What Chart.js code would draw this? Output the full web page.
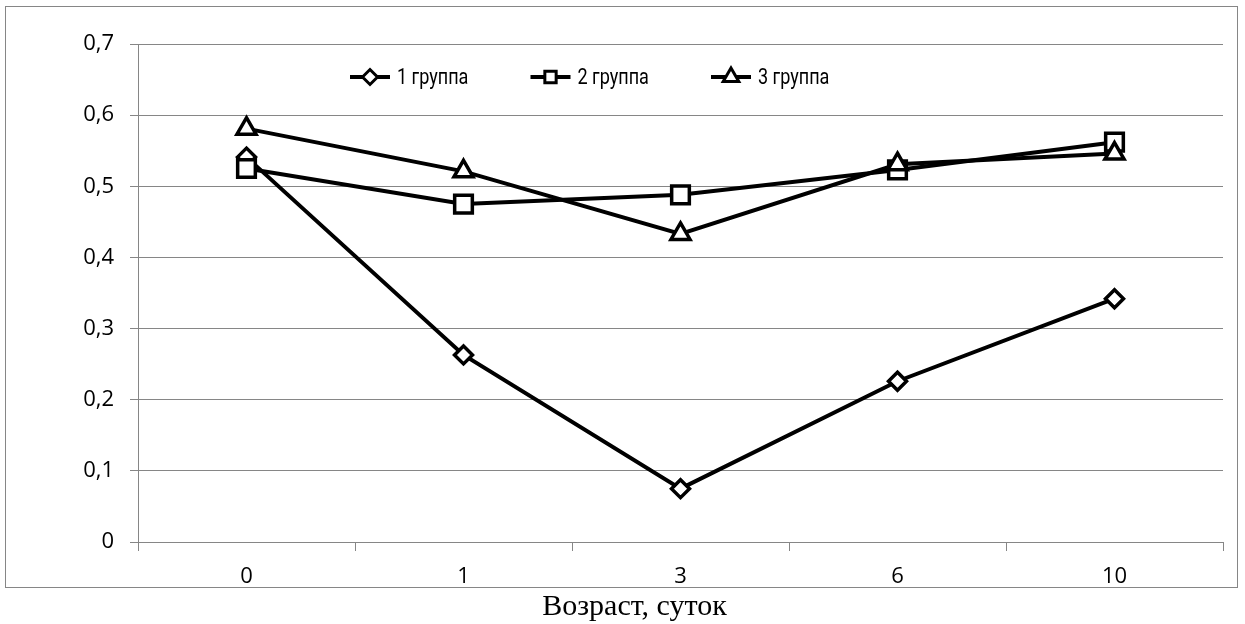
<!DOCTYPE html>
<html>
<head>
<meta charset="utf-8">
<script src="https://cdn.jsdelivr.net/npm/chart.js@4"></script>
<style>
  html, body { margin: 0; padding: 0; background: #fff; }
  #wrap { width: 1245px; height: 624px; }
</style>
</head>
<body>
<div id="wrap"><canvas id="ageChart" width="1245" height="624"></canvas></div>
<script>
// Age in days (x categories)
const days = ['0', '1', '3', '6', '10'];

// Series values
const group1 = [0.541, 0.263, 0.075, 0.226, 0.342];
const group2 = [0.525, 0.475, 0.488, 0.523, 0.562];
const group3 = [0.581, 0.521, 0.433, 0.531, 0.546];

const seriesNames = ['1 группа', '2 группа', '3 группа'];
const yTicks = [0, 0.1, 0.2, 0.3, 0.4, 0.5, 0.6, 0.7];
const xTitle = 'Возраст, суток';

const gridGray = '#868686';
const markerStyles = [
    { pointStyle: 'rectRot', radius: 9, legendRadius: 7.5 },
    { pointStyle: 'rect', radius: 12.5, legendRadius: 8 },
    { pointStyle: 'triangle', radius: 11, legendRadius: 9 }
];

// outer frame like the spreadsheet chart box, plus the axis title under it
const framePlugin = {
    id: 'frame',
    beforeDraw(chart) {
        const c = chart.ctx;
        c.save();
        c.fillStyle = '#fff';
        c.fillRect(0, 0, chart.width, chart.height);
        c.strokeStyle = gridGray;
        c.lineWidth = 1;
        c.strokeRect(5.5, 6.5, 1232, 581);
        c.restore();
    },
    afterDraw(chart) {
        const c = chart.ctx;
        c.save();
        c.fillStyle = '#000';
        c.font = '30px "Liberation Serif"';
        c.textAlign = 'center';
        c.textBaseline = 'middle';
        c.fillText(xTitle, chart.width / 2 + 12, 607);
        c.restore();
    }
};

// legend with line sample + marker, like the original
const lineLegend = {
    id: 'lineLegend',
    afterDraw(chart) {
        const c = chart.ctx;
        const startX = 350, step = 180.5, y = 77;
        c.save();
        chart.data.datasets.forEach((ds, i) => {
            const x = startX + i * step;
            c.strokeStyle = '#000';
            c.lineWidth = 4;
            c.beginPath();
            c.moveTo(x, y);
            c.lineTo(x + 40, y);
            c.stroke();
            c.fillStyle = '#fff';
            c.strokeStyle = '#000';
            c.lineWidth = 3;
            Chart.helpers.drawPoint(c, {
                pointStyle: markerStyles[i].pointStyle,
                radius: markerStyles[i].legendRadius,
                borderWidth: 3,
                rotation: 0
            }, x + 20, y);
            // condensed look of the original legend font
            c.save();
            c.translate(x + 47, y);
            c.scale(0.82, 1);
            c.fillStyle = '#000';
            c.font = '22px Roboto';
            c.textBaseline = 'middle';
            c.textAlign = 'left';
            c.fillText(ds.label, 0, 1);
            c.restore();
        });
        c.restore();
    }
};

function makeSet(label, data, idx, order) {
    return {
        label: label,
        data: data,
        borderColor: '#000',
        backgroundColor: '#fff',
        borderWidth: 4,
        pointStyle: markerStyles[idx].pointStyle,
        pointRadius: markerStyles[idx].radius,
        pointHoverRadius: markerStyles[idx].radius,
        pointBorderWidth: 3.5,
        pointBackgroundColor: '#fff',
        pointBorderColor: '#000',
        tension: 0,
        order: order
    };
}

new Chart(document.getElementById('ageChart').getContext('2d'), {
    type: 'line',
    data: {
        labels: days,
        datasets: [
            makeSet(seriesNames[0], group1, 0, 3),
            makeSet(seriesNames[1], group2, 1, 2),
            makeSet(seriesNames[2], group3, 2, 1)
        ]
    },
    options: {
        responsive: false,
        animation: false,
        layout: { padding: { left: 0, right: 22, top: 44, bottom: 0 } },
        plugins: {
            legend: { display: false },
            tooltip: { enabled: false }
        },
        scales: {
            x: {
                offset: true,
                grid: {
                    offset: true,
                    drawOnChartArea: false,
                    drawTicks: true,
                    tickLength: 9,
                    color: gridGray
                },
                border: { color: gridGray },
                ticks: {
                    color: '#000',
                    font: { family: 'Open Sans', size: 22 },
                    padding: 13
                },
                afterFit(scale) { scale.height = 82; }
            },
            y: {
                min: 0,
                max: 0.7,
                afterBuildTicks(scale) {
                    scale.ticks = yTicks.map(v => ({ value: v }));
                },
                grid: {
                    color: gridGray,
                    drawTicks: true,
                    tickLength: 8
                },
                border: { color: gridGray },
                ticks: {
                    color: '#000',
                    font: { family: 'Open Sans', size: 22 },
                    padding: 16,
                    callback: v => v === 0 ? '0' : v.toFixed(1).replace('.', ',')
                },
                afterFit(scale) { scale.width = 138; }
            }
        }
    },
    plugins: [framePlugin, lineLegend]
});
</script>
</body>
</html>
